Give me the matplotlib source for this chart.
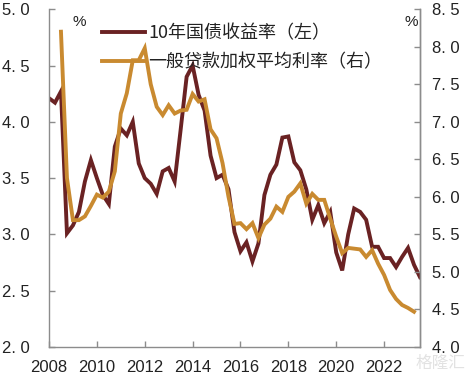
import numpy as np
import matplotlib
matplotlib.use("Agg")
import matplotlib.pyplot as plt
from matplotlib.ticker import FixedLocator, FuncFormatter

plt.rcParams['font.family'] = ['Liberation Sans', 'Noto Sans CJK SC', 'DejaVu Sans']

# 10年国债收益率, quarterly from 2008Q1
bond_start = 2008.0
bond = [4.21, 4.17, 4.27, 3.01, 3.08, 3.20, 3.47, 3.66,
        3.50, 3.35, 3.27, 3.78, 3.94, 3.88, 4.00, 3.63,
        3.50, 3.45, 3.36, 3.56, 3.59, 3.47, 3.93, 4.40,
        4.50, 4.24, 4.10, 3.70, 3.50, 3.53, 3.40, 3.02,
        2.85, 2.93, 2.76, 2.92, 3.35, 3.53, 3.62, 3.86,
        3.87, 3.64, 3.57, 3.40, 3.13, 3.26, 3.10, 3.20,
        2.84, 2.68, 3.00, 3.23, 3.20, 3.13, 2.89, 2.89,
        2.79, 2.79, 2.71, 2.80, 2.88, 2.73, 2.62]

# 一般贷款加权平均利率, quarterly from 2008Q3
loan_start = 2008.5
loan = [8.20, 6.25, 5.69, 5.69, 5.74, 5.88,
        6.03, 5.99, 6.07, 6.34, 7.11, 7.38, 7.82, 7.82,
        7.98, 7.50, 7.20, 7.09, 7.22, 7.11, 7.15, 7.16,
        7.37, 7.27, 7.30, 6.90, 6.78, 6.45, 6.00, 5.64,
        5.65, 5.57, 5.65, 5.45, 5.63, 5.71, 5.87, 5.80,
        6.00, 6.07, 6.18, 5.91, 6.04, 5.96, 5.96, 5.71,
        5.47, 5.25, 5.32, 5.31, 5.30, 5.20, 5.29, 5.11,
        4.96, 4.76, 4.64, 4.56, 4.52, 4.47]

labels = ["10年国债收益率（左）", "一般贷款加权平均利率（右）"]
year_ticks = [2008, 2010, 2012, 2014, 2016, 2018, 2020, 2022]
left_ticks = [2.0, 2.5, 3.0, 3.5, 4.0, 4.5, 5.0]
right_ticks = [4.0, 4.5, 5.0, 5.5, 6.0, 6.5, 7.0, 7.5, 8.0, 8.5]

MAROON = "#6a2223"
GOLD = "#c98a30"
SPINE = "#8c8c8c"
CJK = ['Noto Sans CJK SC', 'DejaVu Sans']

bond_x = bond_start + 0.25 * np.arange(len(bond))
loan_x = loan_start + 0.25 * np.arange(len(loan))

fig = plt.figure(figsize=(4.70, 3.77), dpi=100)
ax = fig.add_axes([49 / 470, 1 - 347 / 377, 371 / 470, 337.8 / 377])
ax2 = ax.twinx()

l1, = ax.plot(bond_x, bond, color=MAROON, lw=2.8, solid_joinstyle="miter")
l2, = ax2.plot(loan_x, loan, color=GOLD, lw=2.8, solid_joinstyle="miter")

ax.set_xlim(2008, 2023.5)
ax.set_ylim(2.0, 5.0)
ax2.set_ylim(4.0, 8.5)

fmt = FuncFormatter(lambda v, p: f"{v:.1f}".replace(".", ". "))
ax.yaxis.set_major_locator(FixedLocator(left_ticks))
ax.yaxis.set_major_formatter(fmt)
ax2.yaxis.set_major_locator(FixedLocator(right_ticks))
ax2.yaxis.set_major_formatter(fmt)
ax.xaxis.set_major_locator(FixedLocator(year_ticks))

for a in (ax, ax2):
    for s in a.spines.values():
        s.set_color(SPINE)
        s.set_linewidth(1.0)
    a.spines["top"].set_visible(False)
    a.tick_params(direction="in", length=4, width=1, color=SPINE,
                  labelsize=12, labelcolor="#222222")
ax2.spines["left"].set_visible(False)
ax2.spines["bottom"].set_visible(False)
ax.tick_params(axis="y", pad=14)
ax.tick_params(axis="x", pad=9)
ax2.tick_params(axis="y", pad=8.5)

fig.text(79 / 470, 1 - 22 / 377, "%", fontsize=11, color="#222222",
         ha="center", va="center")
fig.text(411 / 470, 1 - 22 / 377, "%", fontsize=11, color="#222222",
         ha="center", va="center")

leg = ax.legend([l1, l2], labels,
                loc="upper left", bbox_to_anchor=(0.143, 0.955), frameon=False,
                fontsize=13, handlelength=2.4, handletextpad=0.15,
                labelspacing=0.58, borderpad=0, borderaxespad=0)
for t in leg.get_texts():
    t.set_color("#222222")
    t.set_fontfamily(CJK)

fig.text(440 / 470, 1 - 363 / 377, "格隆汇", fontsize=12, color="#e2e2e2",
         ha="center", va="center", family=CJK, zorder=0)

fig.savefig("out.png", dpi=100)
